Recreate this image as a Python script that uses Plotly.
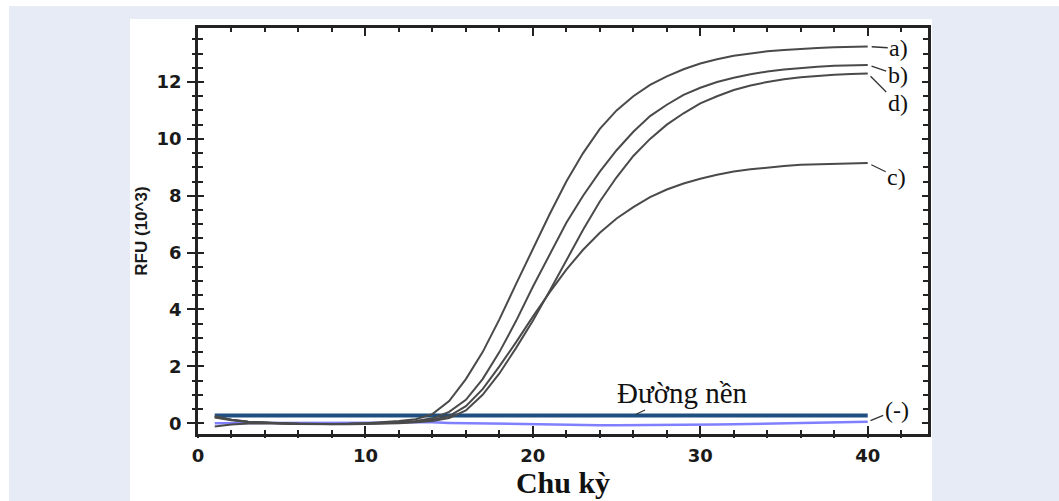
import plotly.graph_objects as go

# ---- data ----
cycles = list(range(1, 41))
curve_a = [0.22, 0.12, 0.05, 0.02, 0.0, -0.02, -0.03, -0.03, -0.02, 0.0, 0.03, 0.08, 0.14, 0.32, 0.78,
           1.55, 2.5, 3.65, 4.9, 6.15, 7.35, 8.5, 9.5, 10.35, 11.0, 11.5, 11.9, 12.2, 12.45, 12.65,
           12.8, 12.92, 13.01, 13.08, 13.13, 13.17, 13.2, 13.22, 13.24, 13.25]
curve_b = [0.2, 0.1, 0.04, 0.01, -0.01, -0.02, -0.03, -0.03, -0.02, -0.01, 0.01, 0.04, 0.08, 0.17, 0.4,
           0.82, 1.55, 2.5, 3.6, 4.8, 5.95, 7.05, 8.0, 8.85, 9.6, 10.25, 10.8, 11.2, 11.55, 11.8,
           12.0, 12.15, 12.27, 12.37, 12.44, 12.5, 12.54, 12.57, 12.59, 12.6]
curve_c = [0.25, 0.12, 0.05, 0.01, -0.01, -0.03, -0.04, -0.04, -0.03, -0.02, 0.0, 0.02, 0.05, 0.12, 0.25,
           0.6, 1.2, 2.0, 2.85, 3.75, 4.6, 5.4, 6.1, 6.7, 7.2, 7.6, 7.95, 8.22, 8.43, 8.6,
           8.74, 8.85, 8.93, 9.0, 9.05, 9.09, 9.11, 9.13, 9.14, 9.15]
curve_d = [-0.12, -0.05, -0.01, 0.0, -0.01, -0.02, -0.03, -0.04, -0.04, -0.03, -0.02, 0.0, 0.03, 0.08, 0.18,
           0.45, 1.0, 1.75, 2.65, 3.6, 4.65, 5.75, 6.8, 7.8, 8.65, 9.4, 10.0, 10.5, 10.9, 11.25,
           11.5, 11.72, 11.88, 12.0, 12.1, 12.17, 12.22, 12.26, 12.28, 12.3]
negative = [0.0, 0.0, 0.0, 0.0, 0.0, 0.0, 0.0, 0.0, 0.0, 0.0, 0.02, 0.03, 0.04, 0.03, 0.01,
            0.0, -0.02, -0.03, -0.04, -0.05, -0.06, -0.06, -0.07, -0.07, -0.07, -0.07, -0.06, -0.06, -0.06, -0.06,
            -0.05, -0.04, -0.03, -0.02, -0.01, 0.0, 0.01, 0.02, 0.03, 0.05]
threshold = 0.27
curve_labels = ["a)", "b)", "c)", "d)"]
neg_label = "(-)"
base_label = "Đường nền"
x_title = "Chu kỳ"
y_title = "RFU (10^3)"

# ---- style ----
GRAY = "#4a4a4a"
DARKBLUE = "#1f4f80"
LIGHTBLUE = "#8080ff"
AXIS = "#222222"
W, H = 1059, 501
L, R, T, B = 198, 928, 28, 434  # plot area in px

def px_x(p):
    return (p - L) / (R - L)

def px_y(p):
    return (B - p) / (B - T)

fig = go.Figure()

# negative control (under everything)
fig.add_trace(go.Scatter(x=cycles, y=negative, mode="lines", line=dict(color=LIGHTBLUE, width=2.5),
                         showlegend=False, hoverinfo="skip"))
# baseline threshold
fig.add_trace(go.Scatter(x=[cycles[0], cycles[-1]], y=[threshold, threshold], mode="lines",
                         line=dict(color=DARKBLUE, width=4), showlegend=False, hoverinfo="skip"))
for ys in (curve_a, curve_b, curve_c, curve_d):
    fig.add_trace(go.Scatter(x=cycles, y=ys, mode="lines", line=dict(color=GRAY, width=2),
                             showlegend=False, hoverinfo="skip"))
# invisible trace to make the overlay axes (outer ticks) render
fig.add_trace(go.Scatter(x=[cycles[0]], y=[threshold], xaxis="x2", yaxis="y3", mode="markers",
                         marker=dict(opacity=0), showlegend=False, hoverinfo="skip"))

xr = [0, 43.6]
yr = [-0.38, 13.9]
tickfont = dict(family="DejaVu Sans", size=18, color="#1a1a1a", weight="bold")

fig.update_layout(
    width=W, height=H,
    margin=dict(l=L, r=W - R, t=T, b=H - B, autoexpand=False),
    paper_bgcolor="white", plot_bgcolor="white",
    xaxis=dict(range=xr, dtick=10, tick0=0, ticks="inside", ticklen=8, tickwidth=2, tickcolor=AXIS,
               mirror="ticks", showline=True, linewidth=2.5, linecolor=AXIS, showgrid=False, zeroline=False,
               minor=dict(dtick=2, tick0=0, ticks="inside", ticklen=4, tickwidth=2, tickcolor=AXIS),
               tickfont=tickfont, ticklabelstandoff=4,
               title=dict(text=x_title, standoff=0,
                          font=dict(family="Liberation Serif", size=30, color="#111111", weight="bold"))),
    xaxis2=dict(range=xr, overlaying="x", anchor="y", side="bottom", dtick=10, tick0=0, ticks="outside",
                ticklen=3, tickwidth=2, tickcolor=AXIS, showticklabels=False, showline=False,
                showgrid=False, zeroline=False,
                minor=dict(dtick=2, tick0=0, ticks="outside", ticklen=3, tickwidth=2, tickcolor=AXIS)),
    yaxis=dict(range=yr, dtick=2, tick0=0, ticks="inside", ticklen=6, tickwidth=2, tickcolor=AXIS,
               mirror="ticks", showline=True, linewidth=2.5, linecolor=AXIS, showgrid=False, zeroline=False,
               minor=dict(dtick=0.5, tick0=0, ticks="inside", ticklen=5, tickwidth=2, tickcolor=AXIS),
               tickfont=tickfont, ticklabelstandoff=10,
               title=dict(text=y_title, standoff=5,
                          font=dict(family="Liberation Sans", size=17, color="#1a1a1a", weight="bold"))),
    yaxis3=dict(range=yr, overlaying="y", anchor="x", side="left", dtick=2, tick0=0, ticks="outside",
                ticklen=10, tickwidth=2, tickcolor=AXIS, showticklabels=False, showline=False,
                showgrid=False, zeroline=False,
                minor=dict(dtick=0.5, tick0=0, ticks="outside", ticklen=5, tickwidth=2, tickcolor=AXIS)),
    shapes=[
        dict(type="rect", xref="paper", yref="paper", x0=px_x(9), x1=px_x(W + 5), y0=px_y(6), y1=px_y(H + 5),
             fillcolor="#e7ebf6", line=dict(width=0), layer="below"),
        dict(type="rect", xref="paper", yref="paper", x0=px_x(130), x1=px_x(932), y0=px_y(19), y1=px_y(H + 5),
             fillcolor="white", line=dict(width=0), layer="below"),
    ],
)

lab_font = dict(family="Liberation Serif", size=24, color="#111111")
ends = {"a)": curve_a[-1], "b)": curve_b[-1], "c)": curve_c[-1], "d)": curve_d[-1]}
offsets = {"a)": (31, 2), "b)": (30, 10), "c)": (29, 14), "d)": (30, 30)}
for lab in curve_labels:
    ax, ay = offsets[lab]
    fig.add_annotation(x=cycles[-1], y=ends[lab], text=lab, showarrow=True, arrowhead=0, arrowwidth=1.3,
                       arrowcolor="#333333", ax=ax, ay=ay, standoff=4, font=lab_font)
fig.add_annotation(x=cycles[-1], y=negative[-1], text=neg_label, showarrow=True, arrowhead=0, arrowwidth=1.3,
                   arrowcolor="#333333", ax=29, ay=-12, standoff=3, font=lab_font)
fig.add_annotation(x=26.0, y=threshold, text=base_label, showarrow=True, arrowhead=0, arrowwidth=1.3,
                   arrowcolor="#333333", ax=49, ay=-23, standoff=3,
                   font=dict(family="Liberation Serif", size=29, color="#111111"))

fig.write_html("out.html", config={"displayModeBar": False},
               post_script="document.body.style.margin='0px';document.body.style.overflow='hidden';")
